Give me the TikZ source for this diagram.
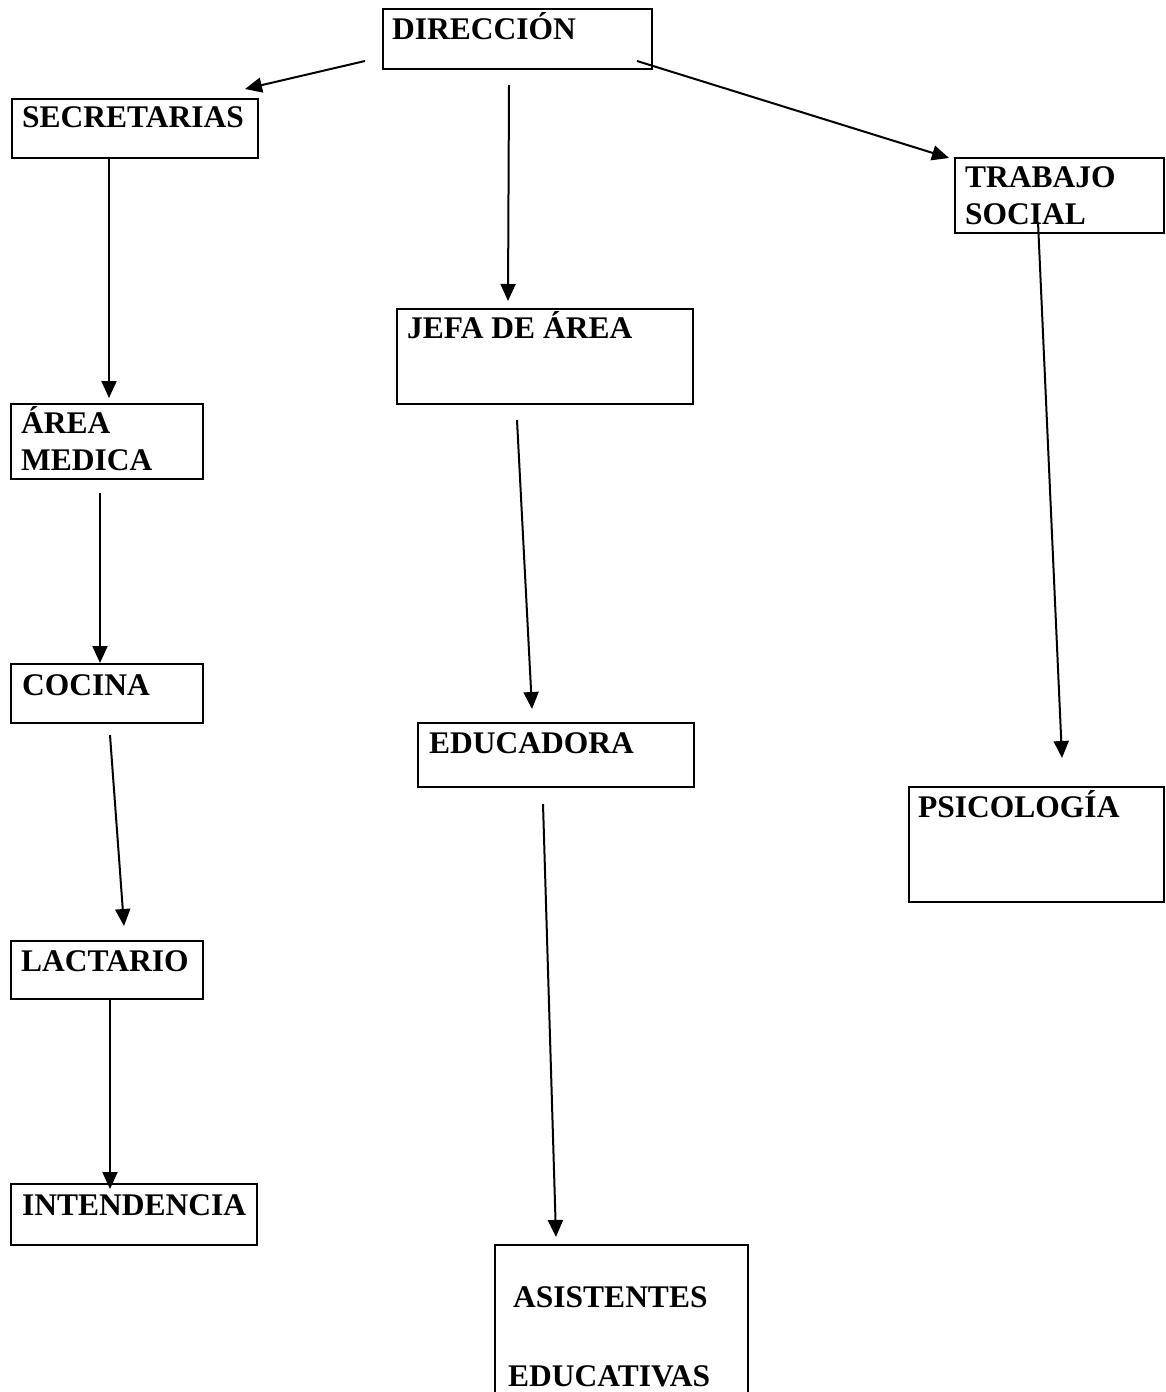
\documentclass[tikz,border=0pt]{standalone}
\usepackage{fontspec}
\setmainfont{Liberation Serif}
\usetikzlibrary{arrows.meta}
\begin{document}
\begin{tikzpicture}[x=1pt,y=-1pt,
  orgbox/.style={draw=black, line width=2.8pt, inner sep=0pt, outer sep=0pt, anchor=north west, fill=none},
  lbl/.style={anchor=base west, inner sep=0pt, font=\fontsize{31.5}{37}\selectfont\bfseries},
  arr/.style={line width=2pt, -{Triangle[length=17pt,width=15pt]}}]
\useasboundingbox (0,0) rectangle (1165,1392);
\clip (0,0) rectangle (1165,1392);
% boxes
\node[orgbox, minimum width=269pt, minimum height=60pt,
  label={[lbl, xshift=9pt, yshift=-30pt]north west:DIRECCIÓN}] (dir) at (383,9) {};
\node[orgbox, minimum width=246pt, minimum height=59pt,
  label={[lbl, xshift=10pt, yshift=-28pt]north west:SECRETARIAS}] (sec) at (12,99) {};
\node[orgbox, minimum width=209pt, minimum height=75pt,
  label={[lbl, xshift=10pt, yshift=-29pt]north west:\parbox[t]{200pt}{TRABAJO\\SOCIAL}}] (ts) at (955,158) {};
\node[orgbox, minimum width=296pt, minimum height=95pt,
  label={[lbl, xshift=10pt, yshift=-29pt]north west:JEFA DE ÁREA}] (jefa) at (397,309) {};
\node[orgbox, minimum width=192pt, minimum height=75pt,
  label={[lbl, xshift=10pt, yshift=-29pt]north west:\parbox[t]{180pt}{ÁREA\\MEDICA}}] (am) at (11,404) {};
\node[orgbox, minimum width=192pt, minimum height=59pt,
  label={[lbl, xshift=11pt, yshift=-31pt]north west:COCINA}] (coc) at (11,664) {};
\node[orgbox, minimum width=276pt, minimum height=64pt,
  label={[lbl, xshift=11pt, yshift=-30pt]north west:EDUCADORA}] (edu) at (418,723) {};
\node[orgbox, minimum width=255pt, minimum height=115pt,
  label={[lbl, xshift=9pt, yshift=-30pt]north west:PSICOLOGÍA}] (psi) at (909,787) {};
\node[orgbox, minimum width=192pt, minimum height=58pt,
  label={[lbl, xshift=10pt, yshift=-30pt]north west:LACTARIO}] (lac) at (11,941) {};
\node[orgbox, minimum width=246pt, minimum height=61pt,
  label={[lbl, xshift=11pt, yshift=-31pt]north west:INTENDENCIA}] (int) at (11,1184) {};
\node[orgbox, minimum width=253pt, minimum height=170pt,
  label={[lbl, xshift=13pt, yshift=-62pt]north west:\parbox[t]{240pt}{\hspace*{5pt}ASISTENTES\\[42pt]EDUCATIVAS}}] (asi) at (495,1245) {};
% connectors
\draw[arr] ([shift={(-18,52)}]dir.north west) -- ([shift={(233,-10)}]sec.north west);
\draw[arr] ([shift={(254,52)}]dir.north west) -- ([shift={(-6,0)}]ts.north west);
\draw[arr] ([shift={(126,76)}]dir.north west) -- ([shift={(111,-8)}]jefa.north west);
\draw[arr] ([shift={(97,59)}]sec.north west) -- ([shift={(98,-6)}]am.north west);
\draw[arr] ([shift={(89,89)}]am.north west) -- ([shift={(89,-1)}]coc.north west);
\draw[arr] ([shift={(99,71)}]coc.north west) -- ([shift={(113,-15)}]lac.north west);
\draw[arr] ([shift={(99,57)}]lac.north west) -- ([shift={(99,5)}]int.north west);
\draw[arr] ([shift={(120,111)}]jefa.north west) -- ([shift={(114,-14)}]edu.north west);
\draw[arr] ([shift={(125,81)}]edu.north west) -- ([shift={(61,-8)}]asi.north west);
\draw[arr] ([shift={(83,64)}]ts.north west) -- ([shift={(153,-29)}]psi.north west);
\end{tikzpicture}
\end{document}
